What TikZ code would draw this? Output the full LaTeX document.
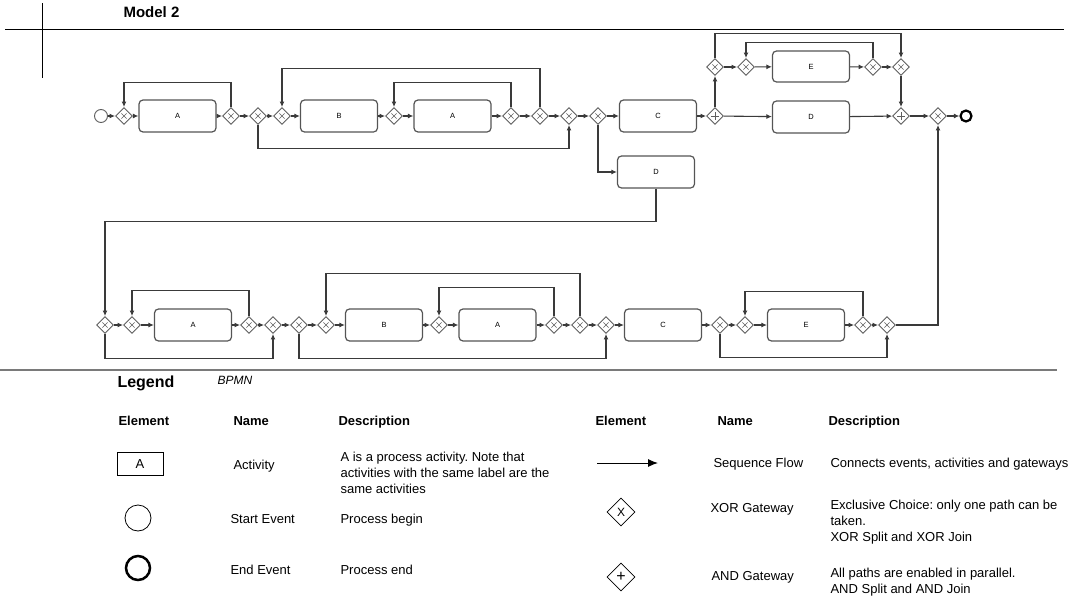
\documentclass[tikz,border=0pt]{standalone}
\usepackage{fontspec}
\setmainfont{Liberation Sans}
\frenchspacing
\usetikzlibrary{arrows.meta,shapes.geometric}
\definecolor{flowline}{HTML}{3A3A3A}
\definecolor{gwline}{HTML}{5E5E5E}
\definecolor{boxline}{HTML}{555555}
\definecolor{ruleline}{HTML}{7A7A7A}

\begin{document}
\begin{tikzpicture}[->,>={Latex[length=5.5pt,width=5pt]},x=1pt,y=-1pt,line width=1.1pt,flowline]
  \tikzstyle{activity}=[draw=boxline,line width=1.2pt,rounded corners=4pt,
    minimum width=77pt,minimum height=32pt,inner sep=0pt,
    font=\fontsize{7.5}{9}\selectfont,text=black]
  \tikzstyle{xorgw}=[diamond,draw=gwline,line width=0.9pt,fill=white,
    minimum size=17pt,inner sep=0pt,
    path picture={\draw[-,gwline,line width=0.6pt]
      ([shift={(-2.6pt,-2.6pt)}]path picture bounding box.center) -- ++(5.2pt,5.2pt)
      ([shift={(-2.6pt,2.6pt)}]path picture bounding box.center) -- ++(5.2pt,-5.2pt);}]
  \tikzstyle{andgw}=[diamond,draw=gwline,line width=0.9pt,fill=white,
    minimum size=17pt,inner sep=0pt,
    path picture={\draw[-,gwline,line width=0.7pt]
      ([xshift=-3.8pt]path picture bounding box.center) -- ++(7.6pt,0pt)
      ([yshift=-3.8pt]path picture bounding box.center) -- ++(0pt,7.6pt);}]
  \tikzstyle{startev}=[circle,draw=gwline,line width=0.9pt,minimum size=13pt,inner sep=0pt]
  \tikzstyle{endev}=[circle,draw=black,line width=2.2pt,minimum size=11pt,inner sep=0pt]
  \tikzstyle{lgtext}=[anchor=base west,inner sep=0pt,text=black,
    font=\fontsize{13}{16}\selectfont]
  \tikzstyle{lgpara}=[anchor=west,inner sep=0pt,align=left,text=black,
    font=\fontsize{13}{16}\selectfont]
  \tikzstyle{lghead}=[lgtext,font=\bfseries\fontsize{13}{16}\selectfont]

  \useasboundingbox (0,0) rectangle (1074,597);

  % frame
  \node[anchor=west,inner sep=0pt,text=black,font=\bfseries\fontsize{15}{18}\selectfont]
    (title) at (123,12) {Model 2};
  \draw[-,black,line width=0.8pt] (5,29) -- (1064,29);
  \draw[-,black,line width=0.8pt] (42,3) -- (42,78);
  \draw[-,ruleline,line width=1.6pt] (0,370) -- (1057,370);

  % first row
  \node[startev] (s) at (101,116) {};
  \node[xorgw] (g1) at (124,116) {};
  \node[activity] (a1) at (177.5,116) {A};
  \node[xorgw] (g2) at (231,116) {};
  \node[xorgw] (g3) at (258,116) {};
  \node[xorgw] (g4) at (282,116) {};
  \node[activity] (b1) at (339,116) {B};
  \node[xorgw] (g5) at (394,116) {};
  \node[activity] (a2) at (452.5,116) {A};
  \node[xorgw] (g6) at (511,116) {};
  \node[xorgw] (g7) at (540,116) {};
  \node[xorgw] (g8) at (569,116) {};
  \node[xorgw] (g9) at (598,116) {};
  \node[activity] (c1) at (658,116) {C};
  \node[andgw] (p1) at (715,116) {};
  \node[xorgw] (g10) at (715,67) {};
  \node[xorgw] (g11) at (746,67) {};
  \node[activity,minimum height=31pt] (e1) at (811,66.5) {E};
  \node[xorgw] (g12) at (873,67) {};
  \node[xorgw] (g13) at (901,67) {};
  \node[activity] (d1) at (811,117) {D};
  \node[andgw] (p2) at (901,116) {};
  \node[xorgw] (g14) at (938,116) {};
  \node[endev] (t) at (966,116) {};
  \node[activity] (d2) at (656,172) {D};

  \path (s) edge (g1) (g1) edge (a1) (a1) edge (g2) (g2) edge (g3)
        (g3) edge (g4) (g4) edge (b1) (b1) edge (g5) (g5) edge (a2)
        (a2) edge (g6) (g6) edge (g7) (g7) edge (g8) (g8) edge (g9)
        (g9) edge (c1) (c1) edge (p1) (p1) edge (d1) (d1) edge (p2)
        (p2) edge (g14) (g14) edge (t)
        (p1) edge (g10) (g10) edge (g11) (g11) edge (e1) (e1) edge (g12)
        (g12) edge (g13) (g13) edge (p2);
  \draw (g2.north) -- ++(0,-24.5) -| (g1.north);
  \draw (g3.south) -- ++(0,23.5) -| (g8.south);
  \draw (g7.north) -- ++(0,-38.5) -| (g4.north);
  \draw (g6.north) -- ++(0,-24.5) -| (g5.north);
  \draw (g9.south) |- (d2.west);
  \draw (g12.north) -- ++(0,-15.5) -| (g11.north);
  \draw (g10.north) -- ++(0,-24.5) -| (g13.north);

  % second row
  \node[xorgw] (h1) at (105,325) {};
  \node[xorgw] (h2) at (132,325) {};
  \node[activity] (a3) at (193,325) {A};
  \node[xorgw] (h3) at (249,325) {};
  \node[xorgw] (h4) at (273,325) {};
  \node[xorgw] (h5) at (299,325) {};
  \node[xorgw] (h6) at (326,325) {};
  \node[activity] (b2) at (384,325) {B};
  \node[xorgw] (h7) at (439,325) {};
  \node[activity] (a4) at (497.5,325) {A};
  \node[xorgw] (h8) at (554,325) {};
  \node[xorgw] (h9) at (580,325) {};
  \node[xorgw] (h10) at (606,325) {};
  \node[activity] (c2) at (663,325) {C};
  \node[xorgw] (h11) at (720,325) {};
  \node[xorgw] (h12) at (745,325) {};
  \node[activity] (e2) at (806,325) {E};
  \node[xorgw] (h13) at (863,325) {};
  \node[xorgw] (h14) at (887,325) {};

  \draw (d2.south) -- ++(0,33) -| (h1.north);
  \path (h1) edge (h2) (h2) edge (a3) (a3) edge (h3) (h3) edge (h4)
        (h4) edge (h5) (h5) edge (h6) (h6) edge (b2) (b2) edge (h7)
        (h7) edge (a4) (a4) edge (h8) (h8) edge (h9) (h9) edge (h10)
        (h10) edge (c2) (c2) edge (h11) (h11) edge (h12) (h12) edge (e2)
        (e2) edge (h13) (h13) edge (h14);
  \draw (h3.north) -- ++(0,-25.5) -| (h2.north);
  \draw (h1.south) -- ++(0,24.5) -| (h4.south);
  \draw (h9.north) -- ++(0,-42.5) -| (h6.north);
  \draw (h8.north) -- ++(0,-28.5) -| (h7.north);
  \draw (h5.south) -- ++(0,24.5) -| (h10.south);
  \draw (h13.north) -- ++(0,-24.5) -| (h12.north);
  \draw (h11.south) -- ++(0,23.5) -| (h14.south);
  \draw (h14.east) -| (g14.south);

  % legend
  \node[anchor=west,inner sep=0pt,text=black,font=\bfseries\fontsize{16}{19}\selectfont]
    (lgtitle) at (117,383) {Legend};
  \node[anchor=west,inner sep=0pt,text=black,font=\itshape\fontsize{12}{14}\selectfont]
    (lgkind) at (217,380) {BPMN};
  \node[lghead] (hel1) at (118,425) {Element};
  \node[lghead] (hna1) at (233,425) {Name};
  \node[lghead] (hde1) at (338,425) {Description};
  \node[lghead] (hel2) at (595,425) {Element};
  \node[lghead] (hna2) at (717,425) {Name};
  \node[lghead] (hde2) at (828,425) {Description};

  \node[draw=black,line width=0.8pt,minimum width=46pt,minimum height=23pt,inner sep=0pt,
    text height=9.3pt,text depth=0pt,
    text=black,font=\fontsize{13}{15}\selectfont] (lgact) at (140,463.5) {A};
  \node[lgtext] (nact) at (233,469) {Activity};
  \node[lgpara] (dact) at (340,473) {A is a process activity. Note that\\
    activities with the same label are the\\same activities};

  \node[circle,draw=black,line width=0.8pt,minimum size=26pt,inner sep=0pt] (lgstart) at (138,518) {};
  \node[lgtext] (nstart) at (230,523) {Start Event};
  \node[lgtext] (dstart) at (340,523) {Process begin};

  \node[circle,draw=black,line width=2.5pt,minimum size=24pt,inner sep=0pt] (lgend) at (138,568) {};
  \node[lgtext] (nend) at (230,574) {End Event};
  \node[lgtext] (dend) at (340,574) {Process end};

  \coordinate (lgfrom) at (597,463);
  \coordinate (lgto) at (658,463);
  \draw[-{Latex[length=10pt,width=8pt]},black,line width=1pt] (lgfrom) -- (lgto);
  \node[lgtext] (nflow) at (713,467) {Sequence Flow};
  \node[lgtext] (dflow) at (830,467) {Connects events, activities and gateways};

  \node[diamond,draw=black,line width=0.7pt,minimum size=28pt,inner sep=0pt,
    text=black,font=\fontsize{12}{14}\selectfont] (lgxor) at (621,512) {X};
  \node[lgtext] (nxor) at (710,512) {XOR Gateway};
  \node[lgpara] (dxor) at (830,522.5) {Exclusive Choice: only one path can be\\taken.\\XOR Split and XOR Join};

  \node[diamond,draw=black,line width=0.7pt,minimum size=28pt,inner sep=0pt,
    text=black,font=\fontsize{16}{18}\selectfont] (lgand) at (621,577) {+};
  \node[lgtext] (nand) at (711,580) {AND Gateway};
  \node[lgpara] (dand) at (830,582) {All paths are enabled in parallel.\\AND Split and AND Join};
\end{tikzpicture}
\end{document}
